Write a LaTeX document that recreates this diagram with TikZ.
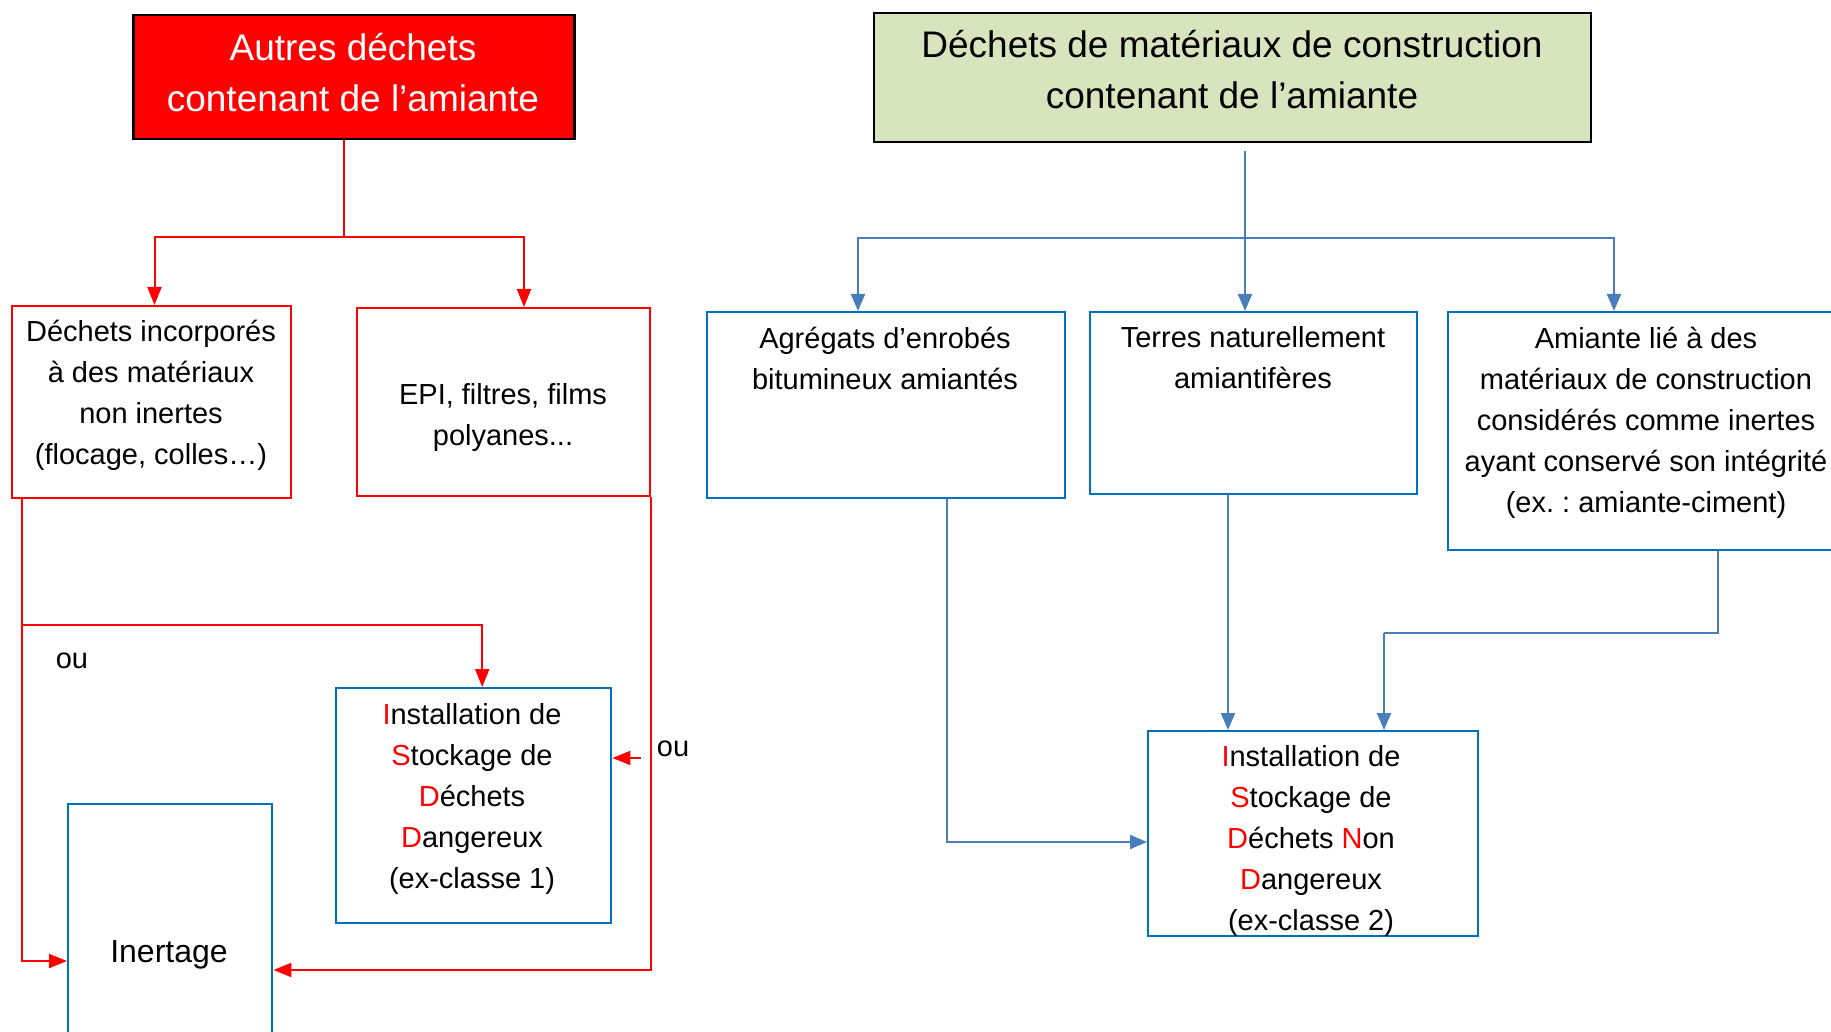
\documentclass[tikz,border=0pt]{standalone}
\usepackage{fontspec}
\setmainfont{Liberation Sans}
\usetikzlibrary{arrows.meta,calc}
\definecolor{rd}{RGB}{255,0,0}
\definecolor{bbx}{RGB}{0,112,192}
\definecolor{blc}{RGB}{74,126,187}
\definecolor{gfill}{RGB}{215,228,189}
\frenchspacing
\begin{document}
\begin{tikzpicture}[x=1pt,y=-1pt,
  box/.style={draw, line width=2pt, anchor=north west, inner sep=0pt, rectangle},
  redbox/.style={box, draw=rd},
  bluebox/.style={box, draw=bbx, line width=2.4pt},
  txt/.style={align=center, font=\fontsize{29}{41}\selectfont, inner sep=0pt},
  ttl/.style={align=center, font=\fontsize{37}{51}\selectfont, inner sep=0pt},
  rline/.style={draw=rd, line width=2pt},
  rarr/.style={rline, -{Triangle[length=18pt,width=14pt]}},
  bconn/.style={draw=blc, line width=2pt},
  barr/.style={bconn, -{Triangle[length=17pt,width=14pt]}},
]
\useasboundingbox (0,0) rectangle (1831,1032);
\begin{scope}
\clip (0,0) rectangle (1831,1032);
% boxes
\node[box, fill=rd, draw=black, line width=2.5pt, minimum width=441pt, minimum height=124pt] (autres) at (132,14) {};
\node[box, fill=gfill, draw=black, line width=2pt, minimum width=717pt, minimum height=129pt] (green) at (873,12) {};
\node[redbox, minimum width=279pt, minimum height=192pt] (inc) at (11,305) {};
\node[redbox, minimum width=293pt, minimum height=188pt] (epi) at (356,307) {};
\node[bluebox, minimum width=275pt, minimum height=235pt] (isdd) at (335,687) {};
\node[bluebox, minimum width=204pt, minimum height=300pt] (inert) at (67,803) {};
\node[bluebox, minimum width=358pt, minimum height=186pt] (agr) at (706,311) {};
\node[bluebox, minimum width=327pt, minimum height=182pt] (terres) at (1089,311) {};
\node[bluebox, minimum width=450pt, minimum height=238pt] (amiante) at (1447,311) {};
\node[bluebox, minimum width=330pt, minimum height=205pt] (isdnd) at (1147,730) {};
\end{scope}
% texts
\node[ttl, text=white] (autresT) at (353,73) {Autres déchets\\contenant de l’amiante};
\node[ttl] (greenT) at (1232,70) {Déchets de matériaux de construction\\contenant de l’amiante};
\node[txt] (incT) at (151,395) {Déchets incorporés\\à des matériaux\\non inertes\\(flocage, colles…)};
\node[txt] (epiT) at (503,417.5) {EPI, filtres, films\\polyanes...};
\node[txt] (isddT) at (472,798.5) {\textcolor{rd}{I}nstallation de\\\textcolor{rd}{S}tockage de\\\textcolor{rd}{D}échets\\\textcolor{rd}{D}angereux\\(ex-classe 1)};
\node[txt, font=\fontsize{32}{41}\selectfont] (inertT) at (169,955) {Inertage};
\node[txt] (agrT) at (885,358) {Agrégats d’enrobés\\bitumineux amiantés};
\node[txt] (terresT) at (1253,358) {Terres naturellement\\amiantifères};
\node[txt] (amT) at (1646,422.5) {Amiante lié à des\\matériaux de construction\\considérés comme inertes\\ayant conservé son intégrité\\(ex. : amiante-ciment)};
\node[txt] (isdndT) at (1311,840.5) {\textcolor{rd}{I}nstallation de\\\textcolor{rd}{S}tockage de\\\textcolor{rd}{D}échets \textcolor{rd}{N}on\\\textcolor{rd}{D}angereux\\(ex-classe 2)};
\node[txt] (ou1) at (72,661) {ou};
\node[txt] (ou2) at (673,749) {ou};
% red connectors
\coordinate (rj) at (344,237);
\draw[rline] (autres.south -| rj) -- (rj);
\draw[rarr] (rj) -| ([xshift=3pt]inc.north);
\draw[rarr] (rj) -| ([xshift=20.5pt]epi.north);
\coordinate (jL) at (22,625);
\draw[rarr] (inc.south -| jL) |- ($(inert.north west)+(0,158)$);
\draw[rarr] (jL) -| ([xshift=8.5pt]isdd.north);
\draw[rarr] (epi.south east) |- ($(inert.north east)+(0,167)$);
\coordinate (ouR) at (641,758);
\draw[rarr] (ouR) -- (ouR -| isdd.east);
% blue connectors
\coordinate (gs) at (1245,151);
\coordinate (bj) at (1245,238);
\draw[barr] (gs) -- (gs |- terres.north);
\draw[barr] (bj) -| ($(agr.north west)+(152,0)$);
\draw[barr] (bj) -| ($(amiante.north west)+(167,0)$);
\draw[barr] ($(agr.south west)+(241,0)$) |- ($(isdnd.north west)+(0,112)$);
\draw[barr] ($(terres.south west)+(139,0)$) -- ($(isdnd.north west)+(81,0)$);
\coordinate (bk) at (1384,633);
\draw[bconn] ($(amiante.south west)+(271,0)$) |- (bk);
\draw[barr] (bk) -- (bk |- isdnd.north);
\end{tikzpicture}
\end{document}
